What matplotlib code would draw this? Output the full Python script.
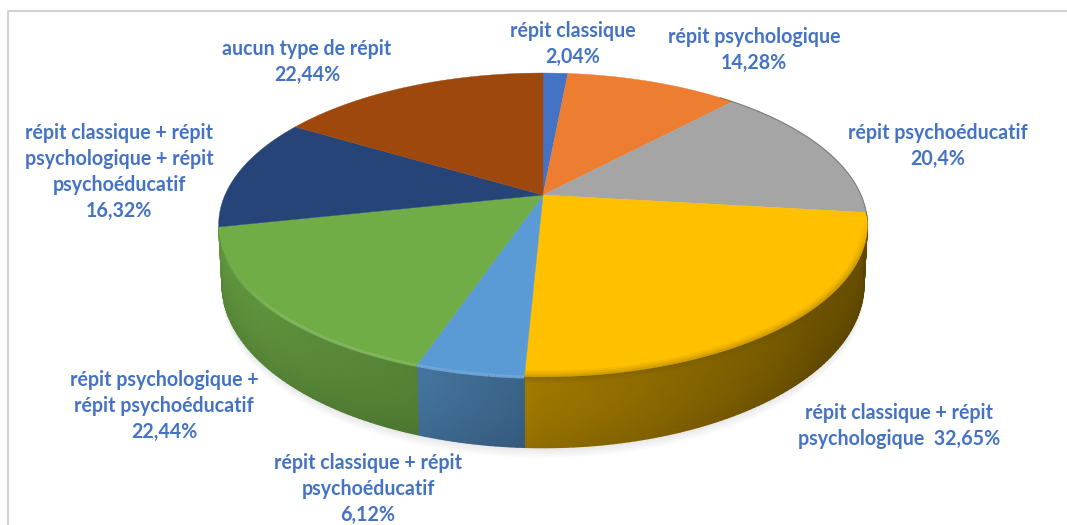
import numpy as np
import matplotlib
matplotlib.use("Agg")
import matplotlib.pyplot as plt
from matplotlib.collections import LineCollection
from matplotlib.colors import to_rgb

# data, clockwise from the top of the pie
labels = [
    "répit classique\n2,04%",
    "répit psychologique\n14,28%",
    "répit psychoéducatif\n20,4%",
    "répit classique + répit\npsychologique  32,65%",
    "répit classique + répit\npsychoéducatif\n6,12%",
    "répit psychologique +\nrépit psychoéducatif\n22,44%",
    "répit classique + répit\npsychologique + répit\npsychoéducatif\n16,32%",
    "aucun type de répit\n22,44%",
]
values = [2.04, 14.28, 20.4, 32.65, 6.12, 22.44, 16.32, 22.44]
colors = ["#4472C4", "#ED7D31", "#A5A5A5", "#FFC000", "#5B9BD5", "#70AD47", "#264478", "#9E480E"]
label_pos = [(573, 44), (754, 50), (938, 146), (899, 426), (368, 489), (164, 406), (119, 172), (307, 62)]

# perspective of the disc, in pixels
CX, CY = 543, 195
A, B, K = 318, 146, 0.197
DEPTH = 57
SHADE_ANGLE = [90, 130, 180, 200, 230, 270]
SHADE_VALUE = [0.38, 0.42, 0.62, 0.76, 0.84, 0.86]


def project(theta, r=1.0, level=0.0):
    """theta in degrees clockwise from the back of the pie, level 0 = top, 1 = bottom."""
    t = np.radians(theta)
    u = r * np.sin(t)
    v = -r * np.cos(t)
    d = 1 - K * v
    scale = A * (1 - 0.01 * level)
    return CX + scale * u / d, CY + (B * v + DEPTH * level) / d


fig = plt.figure(figsize=(10.67, 5.25), dpi=100)
ax = fig.add_axes([0, 0, 1, 1])
ax.set_xlim(0, 1067)
ax.set_ylim(525, 0)
ax.axis("off")

# frame of the original chart
ax.plot([8, 8, 1067], [525, 11, 11], color="#d2d2d2", lw=1.5, zorder=1)

cum = np.cumsum([0] + values)
angles = cum / cum[-1] * 360
side_from, side_to = angles[3], angles[6]

# soft shadow under the pie
th = np.linspace(side_from, side_to, 200)
for i in range(8):
    sx, sy = project(th, level=1)
    ax.fill(np.r_[sx, CX], np.r_[sy + 1 + i * 1.3, CY], color="#808080", alpha=0.025, lw=0, zorder=2)

# side wall, only the part facing us
levels = np.linspace(0, 1, 7)
for start, end, col in zip(angles[:-1], angles[1:], colors):
    lo, hi = max(start, side_from), min(end, side_to)
    if hi <= lo:
        continue
    base = np.array(to_rgb(col))
    steps = np.linspace(lo, hi, max(int(hi - lo), 2))
    tt, ll = np.meshgrid(steps, levels)
    xx, yy = project(tt, level=ll)
    shade = np.interp(tt, SHADE_ANGLE, SHADE_VALUE) * (1 - 0.1 * ll ** 2)
    ax.pcolormesh(xx, yy, shade[..., None] * base, shading="gouraud", zorder=3)

# top of the pie
for start, end, col in zip(angles[:-1], angles[1:], colors):
    arc = np.linspace(start, end, max(int(end - start) * 2, 2))
    x, y = project(arc)
    ax.fill(np.r_[CX, x], np.r_[CY, y], color=col, lw=0.3, zorder=4)

# bevel: light rim on the left, dark blur on the right
for start, end, col in zip(angles[:-1], angles[1:], colors):
    lo, hi = max(start, angles[4]), min(end, 250)
    if hi > lo:
        arc = np.linspace(lo, hi, max(int(hi - lo) * 2, 2))
        x, y = project(arc, r=1.002)
        pts = np.column_stack([x, y])
        segs = np.stack([pts[:-1], pts[1:]], axis=1)
        light = np.array(to_rgb(col)) * 0.85 + 0.15
        fade = np.clip((250 - arc[:-1]) / 25, 0, 1)
        seg_colors = [(*light, f * 0.9) for f in fade]
        ax.add_collection(LineCollection(segs, colors=seg_colors, linewidths=2.2, zorder=5))
    lo, hi = max(start, 100), min(end, angles[4])
    if hi > lo:
        arc = np.linspace(lo, hi, max(int(hi - lo) * 2, 2))
        x, y = project(arc)
        pts = np.column_stack([x, y])
        segs = np.stack([pts[:-1], pts[1:]], axis=1)
        fade = np.clip((arc[:-1] - 100) / 15, 0, 1)
        for width, alpha in [(9, 0.07), (6, 0.10), (3, 0.14)]:
            seg_colors = [(0.42, 0.32, 0, f * alpha) for f in fade]
            ax.add_collection(LineCollection(segs, colors=seg_colors, linewidths=width, zorder=5))

# outline on the upper right
arc = np.linspace(40, 98, 80)
x, y = project(arc)
ax.plot(x, y, color="#555555", lw=0.8, alpha=0.6, zorder=5)

for text, (tx, ty) in zip(labels, label_pos):
    ax.text(tx, ty, text, ha="center", va="center", family="Lato", weight="bold",
            fontsize=14.1, color="#4472C4", linespacing=1.36, zorder=6)

fig.savefig("out.png", dpi=100)
